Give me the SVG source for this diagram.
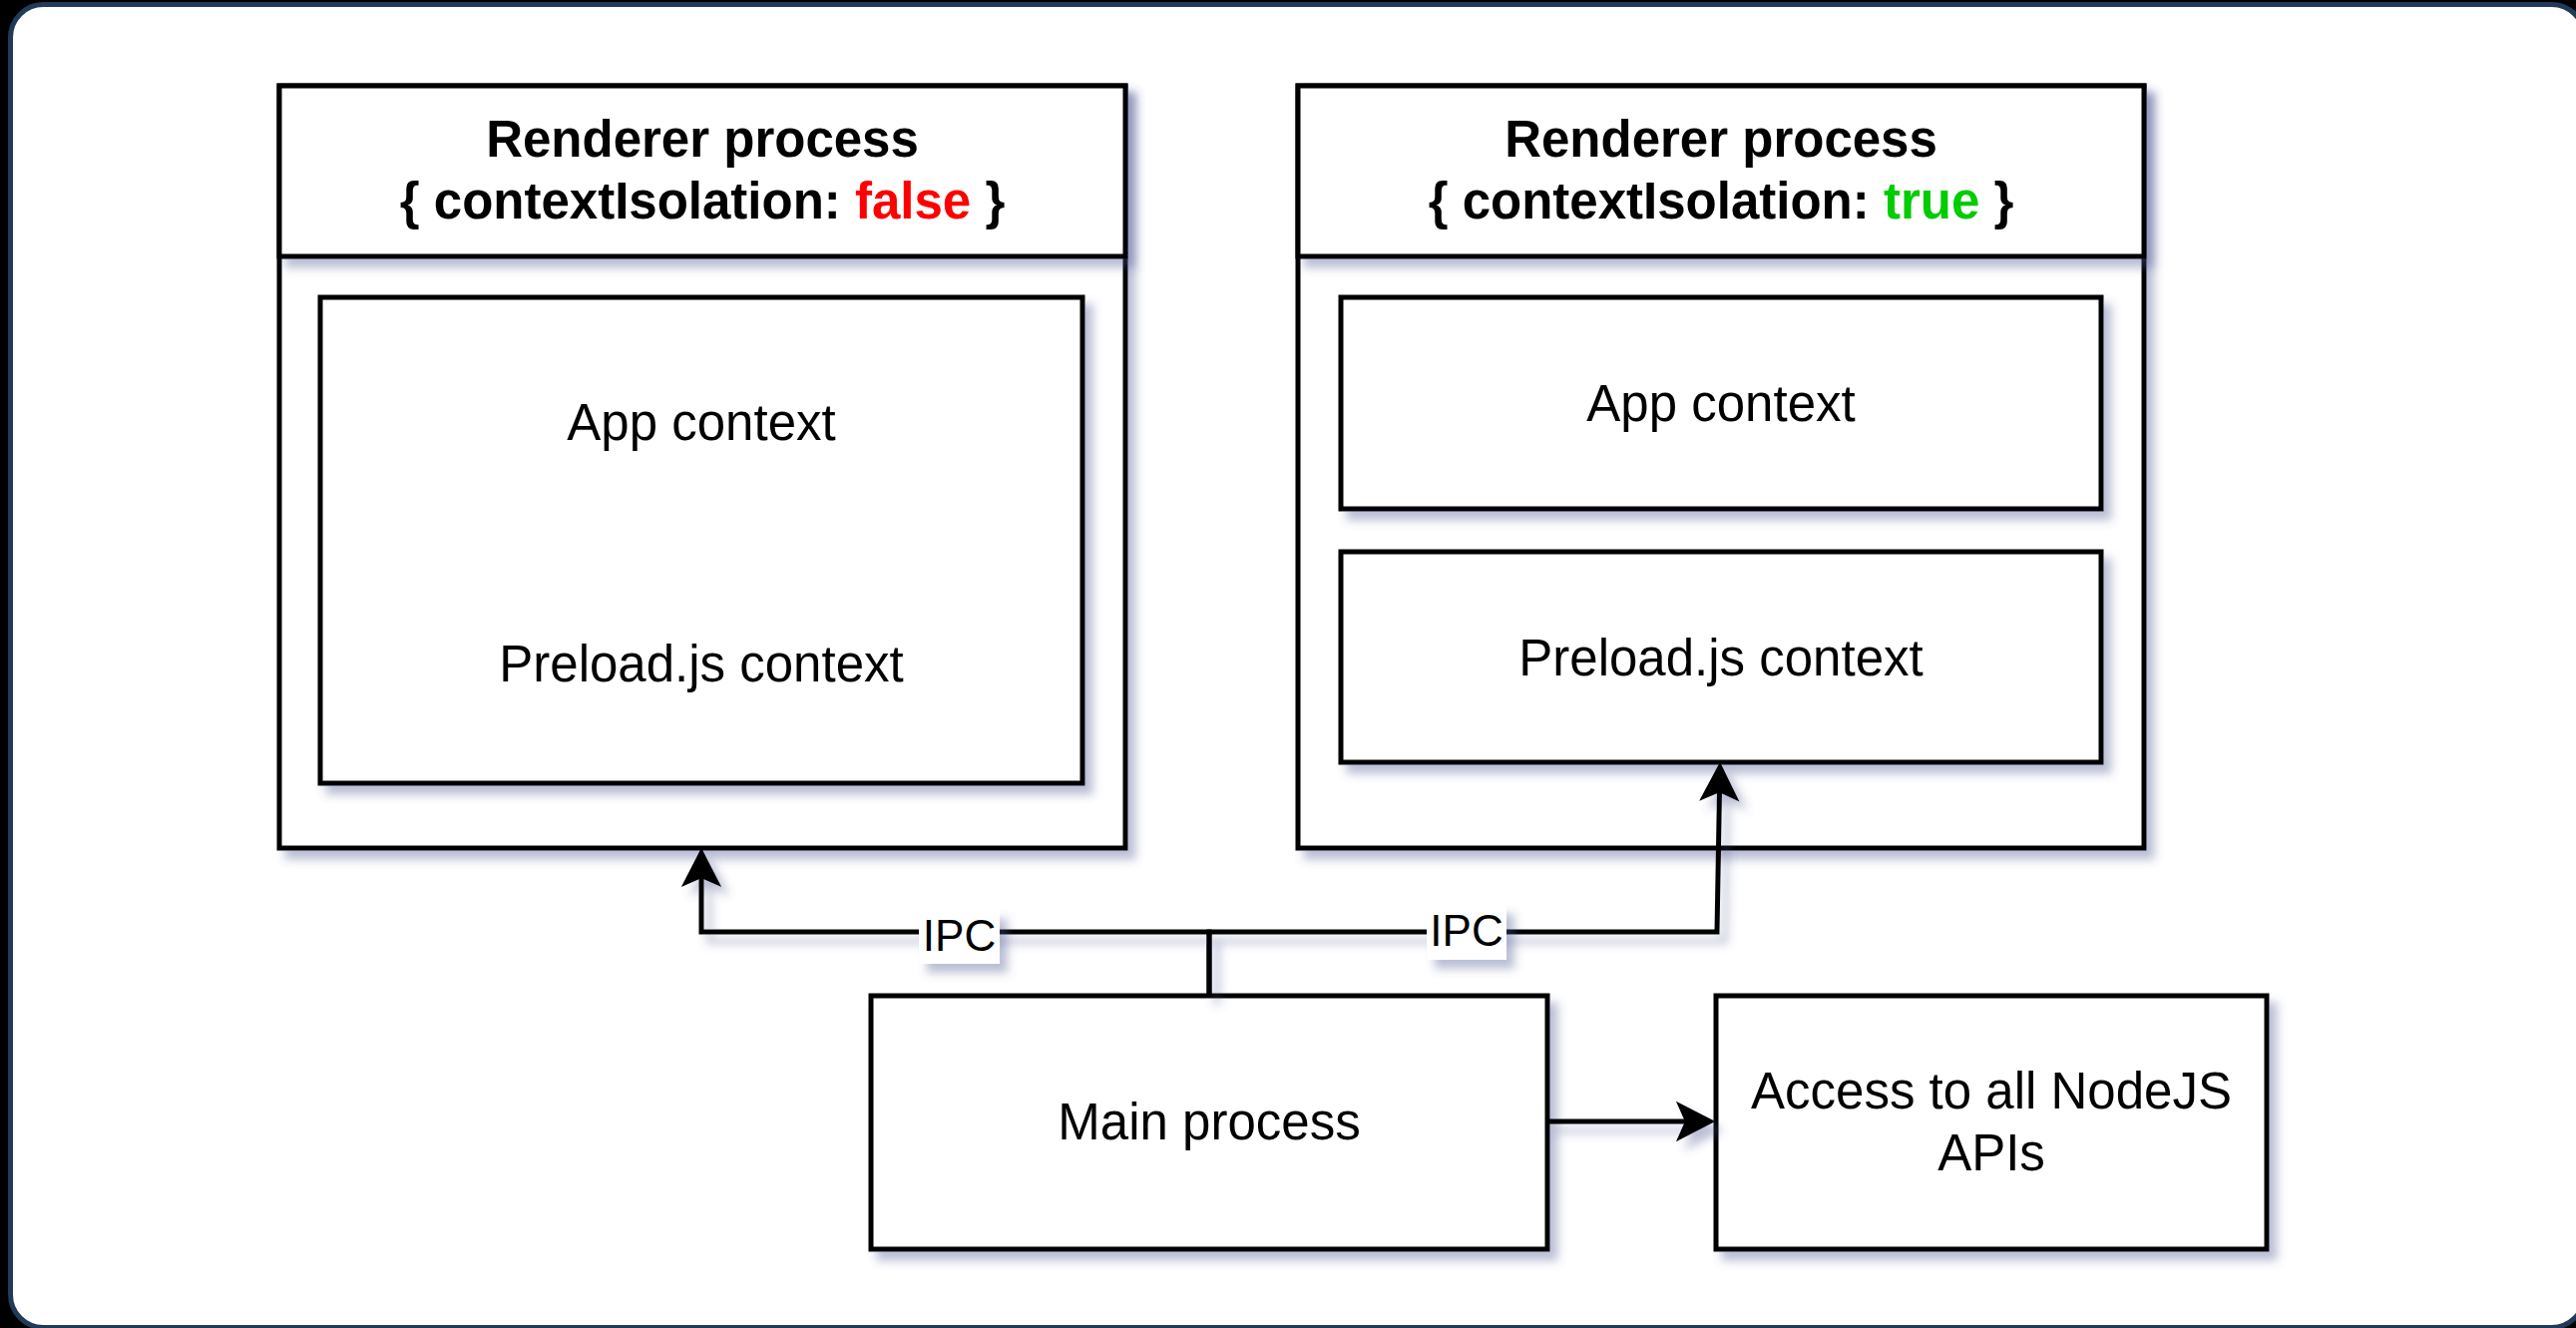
<svg xmlns="http://www.w3.org/2000/svg" width="2582" height="1331" viewBox="0 0 2582 1331">
  <defs>
    <style>
      .box { fill: #ffffff; stroke: #000000; stroke-width: 5; }
      .edge { fill: none; stroke: #000000; stroke-width: 5; }
      .t { font-family: "Liberation Sans", Arial, sans-serif; font-size: 51px; fill: #000000; text-anchor: middle; }
      .b { font-weight: bold; }
      .lbl { font-family: "Liberation Sans", Arial, sans-serif; font-size: 44px; fill: #000000; text-anchor: middle; }
    </style>
    <filter id="shadow" filterUnits="userSpaceOnUse" x="0" y="0" width="2582" height="1331">
      <feDropShadow dx="8" dy="9" stdDeviation="5" flood-color="#4d5590" flood-opacity="0.38"/>
    </filter>
    <marker id="arrow" markerUnits="userSpaceOnUse" viewBox="-10 -21 40 42" refX="0" refY="0" markerWidth="40" markerHeight="42" orient="auto" overflow="visible">
      <path d="M27,0 L-8,-18 L0,0 L-8,18 Z" fill="#000000" stroke="#000000" stroke-width="2" stroke-linejoin="miter"/>
    </marker>
  </defs>

  <!-- page frame -->
  <rect x="0" y="0" width="2582" height="1331" fill="#000000"/>
  <rect x="10.5" y="4.5" width="2580" height="1326" rx="33" ry="33" fill="#ffffff" stroke="#213a57" stroke-width="5"/>

  <!-- Renderer process, contextIsolation false -->
  <g id="renderer-false">
    <rect class="box" x="280" y="86" width="848" height="764" filter="url(#shadow)"/>
    <rect class="box" x="280" y="86" width="848" height="171" filter="url(#shadow)"/>
    <text class="t b" x="704" y="157">Renderer process</text>
    <text class="t b" x="704" y="219">{ contextIsolation: <tspan fill="#ff0000">false</tspan> }</text>
  </g>
  <g id="shared-context">
    <rect class="box" x="321" y="298" width="764" height="487" filter="url(#shadow)"/>
    <text class="t" x="703" y="441">App context</text>
    <text class="t" x="703" y="683">Preload.js context</text>
  </g>

  <!-- Renderer process, contextIsolation true -->
  <g id="renderer-true">
    <rect class="box" x="1301" y="86" width="848" height="764" filter="url(#shadow)"/>
    <rect class="box" x="1301" y="86" width="848" height="171" filter="url(#shadow)"/>
    <text class="t b" x="1725" y="157">Renderer process</text>
    <text class="t b" x="1725" y="219">{ contextIsolation: <tspan fill="#00cc00">true</tspan> }</text>
  </g>
  <g id="app-context">
    <rect class="box" x="1344" y="298" width="762" height="212" filter="url(#shadow)"/>
    <text class="t" x="1725" y="422">App context</text>
  </g>
  <g id="preload-context">
    <rect class="box" x="1344" y="553" width="762" height="211" filter="url(#shadow)"/>
    <text class="t" x="1725" y="677">Preload.js context</text>
  </g>

  <!-- Main process -->
  <g id="main-process">
    <rect class="box" x="873" y="998" width="678" height="254" filter="url(#shadow)"/>
    <text class="t" x="1212" y="1142">Main process</text>
  </g>

  <!-- NodeJS APIs -->
  <g id="nodejs-apis">
    <rect class="box" x="1720" y="998" width="552" height="254" filter="url(#shadow)"/>
    <text class="t" x="1996" y="1111">Access to all NodeJS</text>
    <text class="t" x="1996" y="1173">APIs</text>
  </g>

  <!-- connectors, drawn over the containers they cross -->
  <g id="connectors" filter="url(#shadow)">
    <path class="edge" d="M1212,998 L1212,934 L703,934 L703,879" marker-end="url(#arrow)"/>
    <path class="edge" d="M1212,998 L1212,934 L1721,934 L1723.5,793" marker-end="url(#arrow)"/>
    <path class="edge" d="M1551,1124 L1690,1124" marker-end="url(#arrow)"/>
  </g>

  <!-- IPC labels -->
  <g id="ipc-left">
    <rect x="921" y="912" width="81" height="54" fill="#ffffff" filter="url(#shadow)"/>
    <text class="lbl" x="961.5" y="953">IPC</text>
  </g>
  <g id="ipc-right">
    <rect x="1430" y="907" width="80" height="55" fill="#ffffff" filter="url(#shadow)"/>
    <text class="lbl" x="1470" y="948">IPC</text>
  </g>
</svg>
